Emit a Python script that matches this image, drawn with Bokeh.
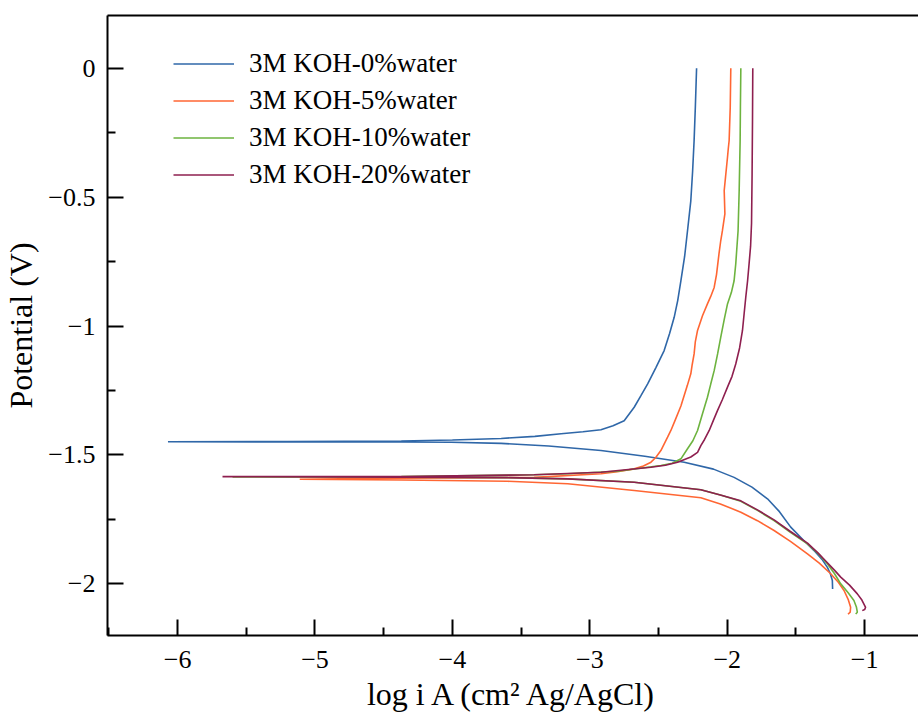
from bokeh.plotting import figure
from bokeh.models import (LinearAxis, FixedTicker, Legend, LegendItem, Range1d)
from bokeh.embed import file_html
from bokeh.resources import INLINE

# ---- data ----
series_names = ["3M KOH-0%water", "3M KOH-5%water", "3M KOH-10%water", "3M KOH-20%water"]
series_colors = ["#2f67a8", "#ff6633", "#6db33f", "#8e1f4f"]

x_0 = [-2.223, -2.226, -2.232, -2.241, -2.252, -2.265, -2.289, -2.31, -2.337, -2.36,
       -2.386, -2.42, -2.459, -2.519, -2.579, -2.628, -2.677, -2.75, -2.831, -2.919,
       -3.05, -3.209, -3.4, -3.645, -4.0, -4.372, -5.2, -6.07,
       -5.2, -4.372, -4.009, -3.645, -3.3, -2.919, -2.6, -2.313, -2.1, -1.95, -1.82,
       -1.707, -1.62, -1.538, -1.45, -1.368, -1.31, -1.271, -1.25, -1.235, -1.233]
y_0 = [0.0, -0.05, -0.15, -0.28, -0.4, -0.514, -0.63, -0.73, -0.824, -0.9,
       -0.966, -1.03, -1.095, -1.161, -1.224, -1.27, -1.315, -1.367, -1.387, -1.402,
       -1.41, -1.418, -1.428, -1.436, -1.442, -1.446, -1.448, -1.449,
       -1.45, -1.45, -1.451, -1.455, -1.465, -1.483, -1.505, -1.528, -1.555, -1.587, -1.625,
       -1.67, -1.72, -1.78, -1.828, -1.871, -1.905, -1.936, -1.96, -1.987, -2.02]

x_5 = [-1.974, -1.978, -1.986, -1.992, -1.998, -2.012, -2.022, -2.017, -2.035, -2.047,
       -2.06, -2.078, -2.095, -2.12, -2.144, -2.18, -2.216, -2.232, -2.241, -2.255,
       -2.265, -2.29, -2.337, -2.375, -2.41, -2.434, -2.483, -2.52, -2.555, -2.61,
       -2.677, -2.8, -2.919, -3.406, -4.372, -5.111,
       -4.372, -3.6, -3.161, -2.677, -2.192, -2.05, -1.901, -1.78, -1.659, -1.54,
       -1.416, -1.33, -1.247, -1.19, -1.15, -1.12, -1.102, -1.105, -1.121]
y_5 = [0.0, -0.15, -0.28, -0.31, -0.345, -0.42, -0.474, -0.565, -0.63, -0.668,
       -0.72, -0.8, -0.85, -0.885, -0.914, -0.96, -1.017, -1.06, -1.108, -1.15,
       -1.185, -1.23, -1.31, -1.36, -1.405, -1.431, -1.483, -1.51, -1.528, -1.543,
       -1.554, -1.565, -1.573, -1.587, -1.59, -1.594,
       -1.597, -1.602, -1.612, -1.638, -1.666, -1.69, -1.722, -1.755, -1.793, -1.835,
       -1.884, -1.92, -1.961, -1.995, -2.026, -2.06, -2.091, -2.11, -2.118]

x_10 = [-1.901, -1.904, -1.906, -1.913, -1.921, -1.938, -1.95, -1.97, -1.998, -2.022,
        -2.047, -2.07, -2.095, -2.12, -2.144, -2.18, -2.216, -2.25, -2.289, -2.337,
        -2.4, -2.483, -2.797, -3.161, -3.406, -4.372, -5.6,
        -4.372, -3.6, -3.161, -2.677, -2.192, -2.05, -1.901, -1.78, -1.659, -1.54,
        -1.416, -1.34, -1.271, -1.22, -1.174, -1.12, -1.078, -1.06, -1.053, -1.065]
y_10 = [0.0, -0.15, -0.28, -0.474, -0.63, -0.759, -0.824, -0.87, -0.914, -0.975,
        -1.043, -1.108, -1.173, -1.225, -1.276, -1.34, -1.405, -1.445, -1.476, -1.515,
        -1.532, -1.541, -1.563, -1.573, -1.577, -1.584, -1.585,
        -1.586, -1.588, -1.593, -1.606, -1.635, -1.655, -1.68, -1.715, -1.755, -1.8,
        -1.845, -1.882, -1.922, -1.96, -2.0, -2.035, -2.065, -2.09, -2.11, -2.117]

x_20 = [-1.814, -1.816, -1.819, -1.823, -1.83, -1.841, -1.852, -1.865, -1.877, -1.889,
        -1.91, -1.938, -1.965, -1.998, -2.035, -2.071, -2.1, -2.131, -2.165, -2.192,
        -2.216, -2.265, -2.361, -2.45, -2.555, -2.919, -3.406, -4.372, -5.673,
        -4.372, -3.6, -3.161, -2.677, -2.192, -2.05, -1.901, -1.78, -1.659, -1.54,
        -1.416, -1.34, -1.271, -1.22, -1.174, -1.11, -1.053, -1.02, -0.993, -1.0, -1.017]
y_20 = [0.0, -0.2, -0.41, -0.6, -0.69, -0.759, -0.825, -0.888, -0.952, -1.017,
        -1.085, -1.147, -1.195, -1.237, -1.285, -1.328, -1.365, -1.405, -1.44, -1.464,
        -1.49, -1.508, -1.528, -1.54, -1.548, -1.567, -1.577, -1.584, -1.584,
        -1.586, -1.588, -1.593, -1.606, -1.635, -1.655, -1.678, -1.713, -1.752, -1.797,
        -1.842, -1.88, -1.918, -1.947, -1.974, -2.005, -2.039, -2.063, -2.091, -2.1, -2.104]

x_ticks = [-6, -5, -4, -3, -2, -1]
x_minor = [-6.5, -5.5, -4.5, -3.5, -2.5, -1.5]
y_ticks = [-2, -1.5, -1, -0.5, 0]
y_minor = [-1.75, -1.25, -0.75, -0.25]

FONT = "Liberation Serif"

p = figure(width=918, height=717, output_backend="svg", toolbar_location=None,
           x_range=Range1d(-6.51, -0.608), y_range=Range1d(-2.2005, 0.205),
           x_axis_label="log i A (cm² Ag/AgCl)", y_axis_label="Potential (V)",
           min_border_left=106, min_border_right=0, min_border_top=15,
           min_border_bottom=82)
p.outline_line_color = None
p.xgrid.visible = False
p.ygrid.visible = False
p.background_fill_color = "white"
p.border_fill_color = "white"

def minus(v):
    s = ("%g" % v)
    return s.replace("-", "\u2212")

p.xaxis.ticker = FixedTicker(ticks=x_ticks, minor_ticks=x_minor)
p.yaxis.ticker = FixedTicker(ticks=y_ticks, minor_ticks=y_minor)
p.xaxis.major_label_overrides = {t: minus(t) for t in x_ticks}
p.yaxis.major_label_overrides = {t: minus(t) for t in y_ticks}

for ax in (p.xaxis[0], p.yaxis[0]):
    ax.axis_line_width = 2
    ax.axis_line_color = "black"
    ax.major_tick_line_width = 2
    ax.minor_tick_line_width = 2
    ax.major_tick_in = 16
    ax.major_tick_out = 0
    ax.minor_tick_in = 8
    ax.minor_tick_out = 0
    ax.major_label_text_font = FONT
    ax.major_label_text_font_size = "26px"
    ax.major_label_text_color = "black"
    ax.axis_label_text_font = FONT
    ax.axis_label_text_font_size = "32px"
    ax.axis_label_text_font_style = "normal"
    ax.axis_label_text_color = "black"

p.yaxis.major_label_standoff = 12
p.yaxis.axis_label_standoff = 6
p.xaxis.major_label_standoff = 15
p.xaxis.axis_label_standoff = 5

top = LinearAxis(ticker=FixedTicker(ticks=[]), axis_line_width=2, axis_line_color="black",
                 major_tick_line_color=None, minor_tick_line_color=None,
                 major_label_text_font_size="0px", major_label_standoff=0,
                 axis_label=None)
p.add_layout(top, "above")

xs = [x_0, x_5, x_10, x_20]
ys = [y_0, y_5, y_10, y_20]
items = []
for name, col, xx, yy in zip(series_names, series_colors, xs, ys):
    r = p.line(xx, yy, line_color=col, line_width=1.6)
    items.append(LegendItem(label=name, renderers=[r]))

legend = Legend(items=items, location=(66, 442), glyph_width=61, glyph_height=37,
                label_height=37, label_standoff=15, spacing=0, padding=0, margin=0,
                border_line_color=None, background_fill_alpha=0,
                label_text_font=FONT, label_text_font_size="27px",
                label_text_color="black")
p.add_layout(legend, "center")

open("out.html", "w").write(file_html(p, INLINE))
